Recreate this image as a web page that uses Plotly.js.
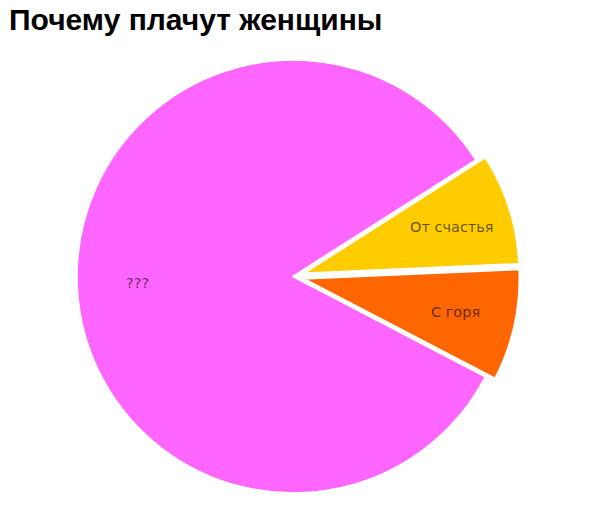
<!DOCTYPE html>
<html>
<head>
<meta charset="utf-8">
<script src="https://cdn.plot.ly/plotly-3.0.1.min.js"></script>
<style>
  html, body { margin: 0; padding: 0; background: #fff; }
  #chart { width: 600px; height: 530px; }
</style>
</head>
<body>
<div id="chart"></div>
<script>
var labels = ["От счастья", "С горя", "???"];
var values = [1, 1, 10];
var colors = ["#FFCC00", "#FF6600", "#FF66FF"];
var pulls = [0.044, 0.044, 0];
var labelDistance = 0.72;

var trace = {
    type: "pie",
    labels: labels,
    values: values,
    pull: pulls,
    sort: false,
    direction: "clockwise",
    rotation: 57.5,
    marker: {colors: colors, line: {color: "#ffffff", width: 2.5}},
    textinfo: "none",
    hoverinfo: "label+value"
};

var layout = {
    width: 600,
    height: 530,
    showlegend: false,
    margin: {l: 18, r: 31, t: 50, b: 27},
    paper_bgcolor: "#ffffff",
    title: {
        text: "<b>Почему плачут женщины</b>",
        font: {family: "Liberation Sans, Arial, sans-serif", size: 30, color: "#000000"},
        x: 9 / 600,
        xref: "container",
        xanchor: "left",
        y: 1 - 9 / 530,
        yref: "container",
        yanchor: "top"
    }
};

var gd = document.getElementById("chart");
Plotly.newPlot(gd, [trace], layout, {displayModeBar: false, staticPlot: true}).then(function () {
    // labels sit inside each slice, at a fixed share of the radius from its (pulled) centre
    var cd = gd.calcdata[0];
    var cx = cd[0].cx, cy = cd[0].cy, r = cd[0].r;
    var gs = gd._fullLayout._size;
    var notes = [];
    for (var i = 0; i < cd.length; i++) {
        var pt = cd[i];
        var k = (pulls[pt.i] || 0) + labelDistance;
        var px = cx + k * pt.pxmid[0];
        var py = cy + k * pt.pxmid[1];
        notes.push({
            text: labels[pt.i],
            xref: "paper", yref: "paper",
            x: (px - gs.l) / gs.w,
            y: 1 - (py - gs.t) / gs.h,
            xanchor: "center", yanchor: "middle",
            showarrow: false,
            font: {family: "DejaVu Sans", size: 14.5, color: "rgba(0,0,0,0.62)"}
        });
    }
    return Plotly.relayout(gd, {annotations: notes});
});
</script>
</body>
</html>
